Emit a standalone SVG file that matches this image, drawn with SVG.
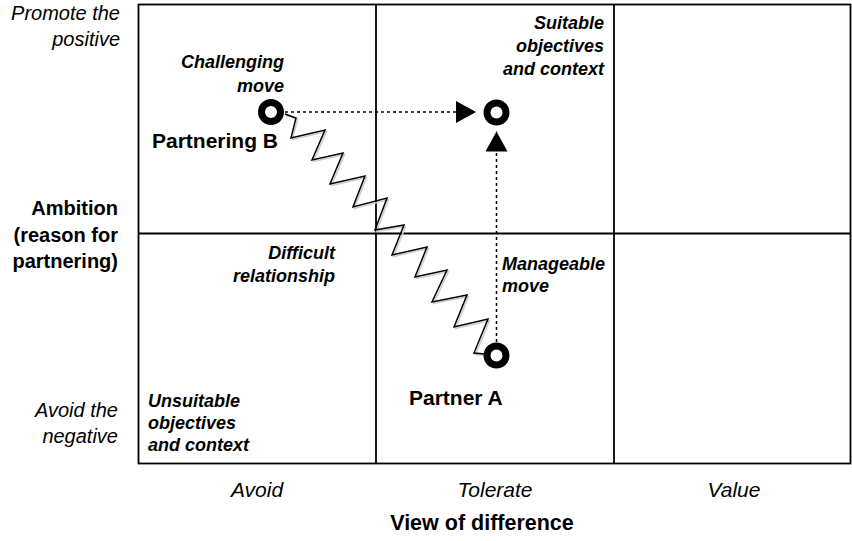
<svg xmlns="http://www.w3.org/2000/svg" width="852" height="541" viewBox="0 0 852 541">
  <style>
    .grid { fill: none; stroke: #000; stroke-width: 1.8; }
    .lbl { font-family: "Liberation Sans", Arial, sans-serif; fill: #000; }
    .it { font-style: italic; font-size: 20px; }
    .ax { font-style: italic; font-size: 21px; }
    .bd { font-weight: bold; font-size: 20px; }
    .nd { font-weight: bold; font-size: 21px; }
    .bi { font-weight: bold; font-style: italic; font-size: 18px; }
    .node { fill: #fff; stroke: #000; stroke-width: 7; }
    .move { fill: none; stroke: #000; stroke-width: 1.5; stroke-dasharray: 3 3; }
    .zig { fill: none; stroke: #000; stroke-width: 1.5; stroke-linejoin: miter; }
    .zigShadow { fill: none; stroke: #ccc; stroke-width: 1.5; }
  </style>
  <defs>
    <marker id="head" viewBox="0 0 20 22" refX="20" refY="11" markerWidth="20" markerHeight="22" markerUnits="userSpaceOnUse" orient="auto">
      <path d="M0,0 L20,11 L0,22 Z" fill="#000"/>
    </marker>
  </defs>

  <rect width="852" height="541" fill="#fff"/>

  <!-- 3x2 matrix -->
  <g id="matrix">
    <rect class="grid" x="138.5" y="4.5" width="712" height="459"/>
    <line class="grid" x1="376" y1="4.5" x2="376" y2="463.5"/>
    <line class="grid" x1="614" y1="4.5" x2="614" y2="463.5"/>
    <line class="grid" x1="138.5" y1="233.5" x2="850.5" y2="233.5"/>
  </g>

  <!-- axis labels -->
  <g id="y-axis" class="lbl" text-anchor="end">
    <text class="it" x="120" y="20">Promote the</text>
    <text class="it" x="120" y="46">positive</text>
    <text class="bd" x="118" y="215">Ambition</text>
    <text class="bd" x="118" y="242">(reason for</text>
    <text class="bd" x="118" y="268">partnering)</text>
    <text class="it" x="118" y="417">Avoid the</text>
    <text class="it" x="118" y="443">negative</text>
  </g>
  <g id="x-axis" class="lbl" text-anchor="middle">
    <text class="ax" x="257" y="497">Avoid</text>
    <text class="ax" x="495" y="497">Tolerate</text>
    <text class="ax" x="734" y="497">Value</text>
    <text class="lbl" x="482" y="530" font-weight="bold" font-size="21.5">View of difference</text>
  </g>

  <!-- quadrant notes -->
  <g id="suitable" class="lbl bi" text-anchor="end">
    <text x="604" y="29">Suitable</text>
    <text x="604" y="52">objectives</text>
    <text x="604" y="75">and context</text>
  </g>
  <g id="unsuitable" class="lbl bi">
    <text x="148" y="407">Unsuitable</text>
    <text x="148" y="429">objectives</text>
    <text x="148" y="451">and context</text>
  </g>

  <!-- connectors -->
  <g id="connectors">
    <path class="zigShadow" transform="translate(1.5,1.5)" d="M285,114 L296,118 L291,138 L325,130 L312,160 L343,153 L330,184 L365,176 L353,207 L387,198 L375,230 L404,225 L392,255 L427,247 L415,277 L447,270 L432,302 L467,295 L454,327 L488,319 L474,353 L485,354"/>
    <path class="zig" d="M285,114 L296,118 L291,138 L325,130 L312,160 L343,153 L330,184 L365,176 L353,207 L387,198 L375,230 L404,225 L392,255 L427,247 L415,277 L447,270 L432,302 L467,295 L454,327 L488,319 L474,353 L485,354"/>
    <line class="move" x1="285" y1="112" x2="476" y2="112" marker-end="url(#head)"/>
    <line class="move" x1="496.5" y1="342" x2="496.5" y2="131.5" marker-end="url(#head)"/>
  </g>

  <g id="connector-labels" class="lbl bi">
    <text x="284" y="68" text-anchor="end">Challenging</text>
    <text x="284" y="92" text-anchor="end">move</text>
    <text x="335" y="259" text-anchor="end">Difficult</text>
    <text x="335" y="282" text-anchor="end">relationship</text>
    <text x="502" y="270">Manageable</text>
    <text x="502" y="292">move</text>
  </g>

  <!-- positions -->
  <g id="partnering-b">
    <circle class="node" cx="271" cy="112" r="9.5"/>
    <text class="lbl nd" x="152" y="148">Partnering B</text>
  </g>
  <g id="target">
    <circle class="node" cx="496.5" cy="112.5" r="9.5"/>
  </g>
  <g id="partner-a">
    <circle class="node" cx="496.5" cy="355.5" r="9.5"/>
    <text class="lbl nd" x="409" y="405">Partner A</text>
  </g>
</svg>
